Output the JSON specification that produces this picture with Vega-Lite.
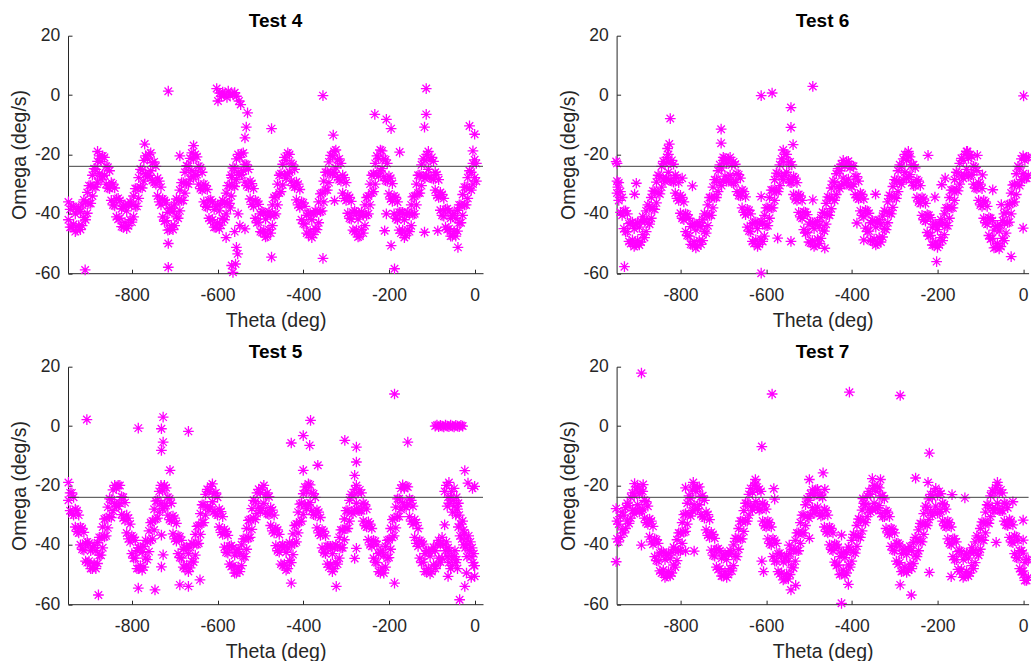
{
"$schema":"https://vega.github.io/schema/vega-lite/v6.json",
"padding":{"left":9,"top":11.7,"right":0,"bottom":0},
"background":"white",
"columns":2,
"spacing":{"column":133.6,"row":93},
"bounds":"flush",
"config":{
"view":{"stroke":null},
"font":"Liberation Sans",
"axis":{"grid":false,"domainColor":"#262626","tickColor":"#262626","labelColor":"#262626","titleColor":"#262626","labelFont":"Liberation Sans","titleFont":"Liberation Sans","labelFontSize":17.5,"titleFontSize":19.5,"titleFontWeight":"normal","tickSize":-4,"domainWidth":1,"tickWidth":1},
"axisX":{"labelPadding":17.4,"titlePadding":7},
"axisY":{"labelPadding":12.3,"titlePadding":5},
"title":{"font":"Liberation Sans","fontSize":19,"fontWeight":"bold","color":"#000000","frame":"group","offset":-4.4,"baseline":"alphabetic","anchor":"middle"}
},
"datasets":{
"t4":[
{"t":-948,"w":-36},{"t":-948,"w":-42},{"t":-944,"w":-38.5},{"t":-944,"w":-44.5},{"t":-940,"w":-37.5},{"t":-940,"w":-44.5},{"t":-936,"w":-37.5},{"t":-936,"w":-43.5},{"t":-932,"w":-40},{"t":-932,"w":-46},{"t":-928,"w":-38.5},{"t":-928,"w":-45.5},{"t":-924,"w":-38},{"t":-924,"w":-44},{"t":-920,"w":-39.3},{"t":-920,"w":-45.3},{"t":-916,"w":-37},{"t":-916,"w":-44},{"t":-912,"w":-35.3},{"t":-912,"w":-41.3},{"t":-908,"w":-36},{"t":-908,"w":-42},{"t":-904,"w":-32.8},{"t":-904,"w":-39.8},{"t":-900,"w":-30.5},{"t":-900,"w":-36.5},{"t":-896,"w":-30.5},{"t":-896,"w":-36.5},{"t":-892,"w":-27},{"t":-892,"w":-34},{"t":-888,"w":-24.8},{"t":-888,"w":-30.8},{"t":-884,"w":-25},{"t":-884,"w":-31},{"t":-880,"w":-22.3},{"t":-880,"w":-29.3},{"t":-876,"w":-20.5},{"t":-876,"w":-26.5},{"t":-872,"w":-22.3},{"t":-872,"w":-28.3},{"t":-868,"w":-20.5},{"t":-868,"w":-27.5},{"t":-864,"w":-21},{"t":-864,"w":-27},{"t":-860,"w":-24},{"t":-860,"w":-30},{"t":-856,"w":-24.3},{"t":-856,"w":-31.3},{"t":-852,"w":-25.5},{"t":-852,"w":-31.5},{"t":-848,"w":-29.5},{"t":-848,"w":-35.5},{"t":-844,"w":-30},{"t":-844,"w":-37},{"t":-840,"w":-31.3},{"t":-840,"w":-37.3},{"t":-836,"w":-35},{"t":-836,"w":-41},{"t":-832,"w":-34.8},{"t":-832,"w":-41.8},{"t":-828,"w":-35.5},{"t":-828,"w":-41.5},{"t":-824,"w":-38.3},{"t":-824,"w":-44.3},{"t":-820,"w":-37.5},{"t":-820,"w":-44.5},{"t":-816,"w":-37},{"t":-816,"w":-43},{"t":-812,"w":-39},{"t":-812,"w":-45},{"t":-808,"w":-37},{"t":-808,"w":-44},{"t":-804,"w":-36},{"t":-804,"w":-42},{"t":-800,"w":-36.8},{"t":-800,"w":-42.8},{"t":-796,"w":-34},{"t":-796,"w":-41},{"t":-792,"w":-31.5},{"t":-792,"w":-37.5},{"t":-788,"w":-31.5},{"t":-788,"w":-37.5},{"t":-784,"w":-27.8},{"t":-784,"w":-34.8},{"t":-780,"w":-25},{"t":-780,"w":-31},{"t":-776,"w":-25.3},{"t":-776,"w":-31.3},{"t":-772,"w":-22},{"t":-772,"w":-29},{"t":-768,"w":-20.5},{"t":-768,"w":-26.5},{"t":-764,"w":-21.5},{"t":-764,"w":-27.5},{"t":-760,"w":-20},{"t":-760,"w":-27},{"t":-756,"w":-19.5},{"t":-756,"w":-25.5},{"t":-752,"w":-22.8},{"t":-752,"w":-28.8},{"t":-748,"w":-22.5},{"t":-748,"w":-29.5},{"t":-744,"w":-24},{"t":-744,"w":-30},{"t":-740,"w":-28},{"t":-740,"w":-34},{"t":-736,"w":-29},{"t":-736,"w":-36},{"t":-732,"w":-31},{"t":-732,"w":-37},{"t":-728,"w":-35},{"t":-728,"w":-41},{"t":-724,"w":-35.5},{"t":-724,"w":-42.5},{"t":-720,"w":-36.3},{"t":-720,"w":-42.3},{"t":-716,"w":-39.5},{"t":-716,"w":-45.5},{"t":-712,"w":-38.3},{"t":-712,"w":-45.3},{"t":-708,"w":-38},{"t":-708,"w":-44},{"t":-704,"w":-39.3},{"t":-704,"w":-45.3},{"t":-700,"w":-37},{"t":-700,"w":-44},{"t":-696,"w":-35},{"t":-696,"w":-41},{"t":-692,"w":-35.5},{"t":-692,"w":-41.5},{"t":-688,"w":-32},{"t":-688,"w":-39},{"t":-684,"w":-29.5},{"t":-684,"w":-35.5},{"t":-680,"w":-29.5},{"t":-680,"w":-35.5},{"t":-676,"w":-26},{"t":-676,"w":-33},{"t":-672,"w":-23.8},{"t":-672,"w":-29.8},{"t":-668,"w":-24},{"t":-668,"w":-30},{"t":-664,"w":-21.3},{"t":-664,"w":-28.3},{"t":-660,"w":-19.5},{"t":-660,"w":-25.5},{"t":-656,"w":-21.5},{"t":-656,"w":-27.5},{"t":-652,"w":-20},{"t":-652,"w":-27},{"t":-648,"w":-20.8},{"t":-648,"w":-26.8},{"t":-644,"w":-24},{"t":-644,"w":-30},{"t":-640,"w":-24.5},{"t":-640,"w":-31.5},{"t":-636,"w":-26},{"t":-636,"w":-32},{"t":-632,"w":-30},{"t":-632,"w":-36},{"t":-628,"w":-30.5},{"t":-628,"w":-37.5},{"t":-624,"w":-31.8},{"t":-624,"w":-37.8},{"t":-620,"w":-35.5},{"t":-620,"w":-41.5},{"t":-616,"w":-35.3},{"t":-616,"w":-42.3},{"t":-612,"w":-36},{"t":-612,"w":-42},{"t":-608,"w":-38.5},{"t":-608,"w":-44.5},{"t":-604,"w":-37.5},{"t":-604,"w":-44.5},{"t":-600,"w":-37},{"t":-600,"w":-43},{"t":-596,"w":-39},{"t":-596,"w":-45},{"t":-592,"w":-36.8},{"t":-592,"w":-43.8},{"t":-588,"w":-35.5},{"t":-588,"w":-41.5},{"t":-584,"w":-36},{"t":-584,"w":-42},{"t":-580,"w":-33},{"t":-580,"w":-40},{"t":-576,"w":-30.5},{"t":-576,"w":-36.5},{"t":-572,"w":-30.5},{"t":-572,"w":-36.5},{"t":-568,"w":-27},{"t":-568,"w":-34},{"t":-564,"w":-24.5},{"t":-564,"w":-30.5},{"t":-560,"w":-24.8},{"t":-560,"w":-30.8},{"t":-556,"w":-21.5},{"t":-556,"w":-28.5},{"t":-552,"w":-20},{"t":-552,"w":-26},{"t":-548,"w":-21},{"t":-548,"w":-27},{"t":-544,"w":-19.8},{"t":-544,"w":-26.8},{"t":-540,"w":-19.5},{"t":-540,"w":-25.5},{"t":-536,"w":-23.3},{"t":-536,"w":-29.3},{"t":-532,"w":-23.5},{"t":-532,"w":-30.5},{"t":-528,"w":-25},{"t":-528,"w":-31},{"t":-524,"w":-29},{"t":-524,"w":-35},{"t":-520,"w":-29.8},{"t":-520,"w":-36.8},{"t":-516,"w":-31.5},{"t":-516,"w":-37.5},{"t":-512,"w":-35.5},{"t":-512,"w":-41.5},{"t":-508,"w":-36},{"t":-508,"w":-43},{"t":-504,"w":-36.8},{"t":-504,"w":-42.8},{"t":-500,"w":-40},{"t":-500,"w":-46},{"t":-496,"w":-39.3},{"t":-496,"w":-46.3},{"t":-492,"w":-39.5},{"t":-492,"w":-45.5},{"t":-488,"w":-41.8},{"t":-488,"w":-47.8},{"t":-484,"w":-40.5},{"t":-484,"w":-47.5},{"t":-480,"w":-39.3},{"t":-480,"w":-45.3},{"t":-476,"w":-40.5},{"t":-476,"w":-46.5},{"t":-472,"w":-37},{"t":-472,"w":-44},{"t":-468,"w":-34.5},{"t":-468,"w":-40.5},{"t":-464,"w":-34},{"t":-464,"w":-40},{"t":-460,"w":-30},{"t":-460,"w":-37},{"t":-456,"w":-27},{"t":-456,"w":-33},{"t":-452,"w":-26.5},{"t":-452,"w":-32.5},{"t":-448,"w":-23.3},{"t":-448,"w":-30.3},{"t":-444,"w":-21},{"t":-444,"w":-27},{"t":-440,"w":-22},{"t":-440,"w":-28},{"t":-436,"w":-19.5},{"t":-436,"w":-26.5},{"t":-432,"w":-20},{"t":-432,"w":-26},{"t":-428,"w":-23},{"t":-428,"w":-29},{"t":-424,"w":-23.5},{"t":-424,"w":-30.5},{"t":-420,"w":-25},{"t":-420,"w":-31},{"t":-416,"w":-29.3},{"t":-416,"w":-35.3},{"t":-412,"w":-30},{"t":-412,"w":-37},{"t":-408,"w":-31.8},{"t":-408,"w":-37.8},{"t":-404,"w":-36},{"t":-404,"w":-42},{"t":-400,"w":-36.3},{"t":-400,"w":-43.3},{"t":-396,"w":-37.5},{"t":-396,"w":-43.5},{"t":-392,"w":-40.5},{"t":-392,"w":-46.5},{"t":-388,"w":-40},{"t":-388,"w":-47},{"t":-384,"w":-39.8},{"t":-384,"w":-45.8},{"t":-380,"w":-42},{"t":-380,"w":-48},{"t":-376,"w":-40},{"t":-376,"w":-47},{"t":-372,"w":-39},{"t":-372,"w":-45},{"t":-368,"w":-39.3},{"t":-368,"w":-45.3},{"t":-364,"w":-36},{"t":-364,"w":-43},{"t":-360,"w":-33.3},{"t":-360,"w":-39.3},{"t":-356,"w":-33},{"t":-356,"w":-39},{"t":-352,"w":-29},{"t":-352,"w":-36},{"t":-348,"w":-26},{"t":-348,"w":-32},{"t":-344,"w":-26},{"t":-344,"w":-32},{"t":-340,"w":-22.5},{"t":-340,"w":-29.5},{"t":-336,"w":-20.3},{"t":-336,"w":-26.3},{"t":-332,"w":-20.5},{"t":-332,"w":-26.5},{"t":-328,"w":-19},{"t":-328,"w":-26},{"t":-324,"w":-18.5},{"t":-324,"w":-24.5},{"t":-320,"w":-21.8},{"t":-320,"w":-27.8},{"t":-316,"w":-21.5},{"t":-316,"w":-28.5},{"t":-312,"w":-23},{"t":-312,"w":-29},{"t":-308,"w":-27},{"t":-308,"w":-33},{"t":-304,"w":-27.8},{"t":-304,"w":-34.8},{"t":-300,"w":-29.5},{"t":-300,"w":-35.5},{"t":-296,"w":-33.8},{"t":-296,"w":-39.8},{"t":-292,"w":-34.5},{"t":-292,"w":-41.5},{"t":-288,"w":-35.8},{"t":-288,"w":-41.8},{"t":-284,"w":-39.5},{"t":-284,"w":-45.5},{"t":-280,"w":-39},{"t":-280,"w":-46},{"t":-276,"w":-39.5},{"t":-276,"w":-45.5},{"t":-272,"w":-41.8},{"t":-272,"w":-47.8},{"t":-268,"w":-40.5},{"t":-268,"w":-47.5},{"t":-264,"w":-39.3},{"t":-264,"w":-45.3},{"t":-260,"w":-40.5},{"t":-260,"w":-46.5},{"t":-256,"w":-37},{"t":-256,"w":-44},{"t":-252,"w":-34.5},{"t":-252,"w":-40.5},{"t":-248,"w":-34},{"t":-248,"w":-40},{"t":-244,"w":-30},{"t":-244,"w":-37},{"t":-240,"w":-27},{"t":-240,"w":-33},{"t":-236,"w":-26.5},{"t":-236,"w":-32.5},{"t":-232,"w":-23},{"t":-232,"w":-30},{"t":-228,"w":-20.5},{"t":-228,"w":-26.5},{"t":-224,"w":-21.3},{"t":-224,"w":-27.3},{"t":-220,"w":-18.5},{"t":-220,"w":-25.5},{"t":-216,"w":-18.8},{"t":-216,"w":-24.8},{"t":-212,"w":-21.5},{"t":-212,"w":-27.5},{"t":-208,"w":-21.8},{"t":-208,"w":-28.8},{"t":-204,"w":-23},{"t":-204,"w":-29},{"t":-200,"w":-27.3},{"t":-200,"w":-33.3},{"t":-196,"w":-28},{"t":-196,"w":-35},{"t":-192,"w":-29.8},{"t":-192,"w":-35.8},{"t":-188,"w":-34},{"t":-188,"w":-40},{"t":-184,"w":-34.5},{"t":-184,"w":-41.5},{"t":-180,"w":-36},{"t":-180,"w":-42},{"t":-176,"w":-39.5},{"t":-176,"w":-45.5},{"t":-172,"w":-39.5},{"t":-172,"w":-46.5},{"t":-168,"w":-39.5},{"t":-168,"w":-45.5},{"t":-164,"w":-42},{"t":-164,"w":-48},{"t":-160,"w":-40.3},{"t":-160,"w":-47.3},{"t":-156,"w":-39.5},{"t":-156,"w":-45.5},{"t":-152,"w":-40},{"t":-152,"w":-46},{"t":-148,"w":-37},{"t":-148,"w":-44},{"t":-144,"w":-34.3},{"t":-144,"w":-40.3},{"t":-140,"w":-34},{"t":-140,"w":-40},{"t":-136,"w":-30},{"t":-136,"w":-37},{"t":-132,"w":-27},{"t":-132,"w":-33},{"t":-128,"w":-27},{"t":-128,"w":-33},{"t":-124,"w":-23.5},{"t":-124,"w":-30.5},{"t":-120,"w":-21.5},{"t":-120,"w":-27.5},{"t":-116,"w":-22},{"t":-116,"w":-28},{"t":-112,"w":-20},{"t":-112,"w":-27},{"t":-108,"w":-19},{"t":-108,"w":-25},{"t":-104,"w":-21.8},{"t":-104,"w":-27.8},{"t":-100,"w":-21},{"t":-100,"w":-28},{"t":-96,"w":-22.3},{"t":-96,"w":-28.3},{"t":-92,"w":-26},{"t":-92,"w":-32},{"t":-88,"w":-26.8},{"t":-88,"w":-33.8},{"t":-84,"w":-28.5},{"t":-84,"w":-34.5},{"t":-80,"w":-32.8},{"t":-80,"w":-38.8},{"t":-76,"w":-33.5},{"t":-76,"w":-40.5},{"t":-72,"w":-34.8},{"t":-72,"w":-40.8},{"t":-68,"w":-38.5},{"t":-68,"w":-44.5},{"t":-64,"w":-38.3},{"t":-64,"w":-45.3},{"t":-60,"w":-39},{"t":-60,"w":-45},{"t":-56,"w":-41.5},{"t":-56,"w":-47.5},{"t":-52,"w":-40.5},{"t":-52,"w":-47.5},{"t":-48,"w":-39.8},{"t":-48,"w":-45.8},{"t":-44,"w":-41.5},{"t":-44,"w":-47.5},{"t":-40,"w":-38.8},{"t":-40,"w":-45.8},{"t":-36,"w":-37},{"t":-36,"w":-43},{"t":-32,"w":-37},{"t":-32,"w":-43},{"t":-28,"w":-33.5},{"t":-28,"w":-40.5},{"t":-24,"w":-31},{"t":-24,"w":-37},{"t":-20,"w":-31},{"t":-20,"w":-37},{"t":-16,"w":-27.8},{"t":-16,"w":-34.8},{"t":-12,"w":-25.5},{"t":-12,"w":-31.5},{"t":-8,"w":-26},{"t":-8,"w":-32},{"t":-4,"w":-23},{"t":-4,"w":-30},{"t":0,"w":-21.8},{"t":0,"w":-27.8},{"t":4,"w":-23},{"t":4,"w":-29},
{"t":-715,"w":1.3},{"t":-715,"w":-58},{"t":-715,"w":-50},{"t":-909,"w":-58.9},{"t":-688,"w":-20.5},{"t":-602,"w":2.2},{"t":-595,"w":0.7},{"t":-583,"w":0.2},{"t":-571,"w":0},{"t":-564,"w":0.4},{"t":-556,"w":-0.4},{"t":-550,"w":-2},{"t":-546,"w":-3.2},{"t":-530,"w":-6},{"t":-533,"w":-10.8},{"t":-536,"w":-14.4},{"t":-591,"w":-0.4},{"t":-575,"w":1.3},{"t":-599,"w":-2},{"t":-588,"w":1},{"t":-578,"w":-0.8},{"t":-560,"w":0.8},{"t":-556,"w":-51.3},{"t":-553,"w":-53.5},{"t":-558,"w":-56.9},{"t":-564,"w":-59.7},{"t":-567,"w":-57.4},{"t":-567,"w":-27.8},{"t":-552,"w":-40},{"t":-536,"w":-45.1},{"t":-560,"w":-46},{"t":-548,"w":-44},{"t":-570,"w":-38},{"t":-580,"w":-48},{"t":-474,"w":-11.3},{"t":-474,"w":-54.6},{"t":-354,"w":-0.2},{"t":-354,"w":-55},{"t":-233,"w":-6.5},{"t":-206,"w":-8.2},{"t":-195,"w":-11.3},{"t":-175,"w":-19.2},{"t":-195,"w":-50.7},{"t":-187,"w":-58.5},{"t":-113,"w":2.2},{"t":-113,"w":-6.5},{"t":-117,"w":-10.8},{"t":-117,"w":-46.2},{"t":-86,"w":-45.7},{"t":-12,"w":-10.4},{"t":0,"w":-13.2},{"t":-4,"w":-18.8},{"t":-39,"w":-51.3},{"t":-206,"w":-40},{"t":-210,"w":-45.7},{"t":-327,"w":-35.6},{"t":-880,"w":-19},{"t":-770,"w":-16.5},{"t":-656,"w":-17},{"t":-330,"w":-13.5}
],
"t6":[
{"t":-948,"w":-23},{"t":-948,"w":-29},{"t":-944,"w":-29.5},{"t":-944,"w":-35.5},{"t":-940,"w":-32.5},{"t":-940,"w":-39.5},{"t":-936,"w":-34.5},{"t":-936,"w":-40.5},{"t":-932,"w":-39},{"t":-932,"w":-45},{"t":-928,"w":-39},{"t":-928,"w":-46},{"t":-924,"w":-40},{"t":-924,"w":-46},{"t":-920,"w":-43.3},{"t":-920,"w":-49.3},{"t":-916,"w":-43},{"t":-916,"w":-50},{"t":-912,"w":-42.8},{"t":-912,"w":-48.8},{"t":-908,"w":-45},{"t":-908,"w":-51},{"t":-904,"w":-43.5},{"t":-904,"w":-50.5},{"t":-900,"w":-43},{"t":-900,"w":-49},{"t":-896,"w":-44.5},{"t":-896,"w":-50.5},{"t":-892,"w":-42.5},{"t":-892,"w":-49.5},{"t":-888,"w":-41},{"t":-888,"w":-47},{"t":-884,"w":-42},{"t":-884,"w":-48},{"t":-880,"w":-39},{"t":-880,"w":-46},{"t":-876,"w":-37},{"t":-876,"w":-43},{"t":-872,"w":-37.5},{"t":-872,"w":-43.5},{"t":-868,"w":-34.5},{"t":-868,"w":-41.5},{"t":-864,"w":-32.3},{"t":-864,"w":-38.3},{"t":-860,"w":-32.5},{"t":-860,"w":-38.5},{"t":-856,"w":-29.3},{"t":-856,"w":-36.3},{"t":-852,"w":-27},{"t":-852,"w":-33},{"t":-848,"w":-27.3},{"t":-848,"w":-33.3},{"t":-844,"w":-24},{"t":-844,"w":-31},{"t":-840,"w":-22.3},{"t":-840,"w":-28.3},{"t":-836,"w":-23},{"t":-836,"w":-29},{"t":-832,"w":-21},{"t":-832,"w":-28},{"t":-828,"w":-20},{"t":-828,"w":-26},{"t":-824,"w":-22.8},{"t":-824,"w":-28.8},{"t":-820,"w":-22},{"t":-820,"w":-29},{"t":-816,"w":-23.3},{"t":-816,"w":-29.3},{"t":-812,"w":-27},{"t":-812,"w":-33},{"t":-808,"w":-27.8},{"t":-808,"w":-34.8},{"t":-804,"w":-29.5},{"t":-804,"w":-35.5},{"t":-800,"w":-33.8},{"t":-800,"w":-39.8},{"t":-796,"w":-34.5},{"t":-796,"w":-41.5},{"t":-792,"w":-36},{"t":-792,"w":-42},{"t":-788,"w":-40},{"t":-788,"w":-46},{"t":-784,"w":-40.3},{"t":-784,"w":-47.3},{"t":-780,"w":-41.5},{"t":-780,"w":-47.5},{"t":-776,"w":-44.3},{"t":-776,"w":-50.3},{"t":-772,"w":-43.5},{"t":-772,"w":-50.5},{"t":-768,"w":-43.3},{"t":-768,"w":-49.3},{"t":-764,"w":-45.5},{"t":-764,"w":-51.5},{"t":-760,"w":-43.8},{"t":-760,"w":-50.8},{"t":-756,"w":-43},{"t":-756,"w":-49},{"t":-752,"w":-44.3},{"t":-752,"w":-50.3},{"t":-748,"w":-42},{"t":-748,"w":-49},{"t":-744,"w":-40},{"t":-744,"w":-46},{"t":-740,"w":-40.5},{"t":-740,"w":-46.5},{"t":-736,"w":-37},{"t":-736,"w":-44},{"t":-732,"w":-34.5},{"t":-732,"w":-40.5},{"t":-728,"w":-34.5},{"t":-728,"w":-40.5},{"t":-724,"w":-31},{"t":-724,"w":-38},{"t":-720,"w":-28.5},{"t":-720,"w":-34.5},{"t":-716,"w":-28.5},{"t":-716,"w":-34.5},{"t":-712,"w":-25.5},{"t":-712,"w":-32.5},{"t":-708,"w":-23.5},{"t":-708,"w":-29.5},{"t":-704,"w":-24.5},{"t":-704,"w":-30.5},{"t":-700,"w":-22},{"t":-700,"w":-29},{"t":-696,"w":-21.3},{"t":-696,"w":-27.3},{"t":-692,"w":-23},{"t":-692,"w":-29},{"t":-688,"w":-21.5},{"t":-688,"w":-28.5},{"t":-684,"w":-21},{"t":-684,"w":-27},{"t":-680,"w":-23.5},{"t":-680,"w":-29.5},{"t":-676,"w":-22.5},{"t":-676,"w":-29.5},{"t":-672,"w":-23.3},{"t":-672,"w":-29.3},{"t":-668,"w":-26.5},{"t":-668,"w":-32.5},{"t":-664,"w":-26.8},{"t":-664,"w":-33.8},{"t":-660,"w":-28},{"t":-660,"w":-34},{"t":-656,"w":-32},{"t":-656,"w":-38},{"t":-652,"w":-32.5},{"t":-652,"w":-39.5},{"t":-648,"w":-34.3},{"t":-648,"w":-40.3},{"t":-644,"w":-38.5},{"t":-644,"w":-44.5},{"t":-640,"w":-38.8},{"t":-640,"w":-45.8},{"t":-636,"w":-40},{"t":-636,"w":-46},{"t":-632,"w":-43.3},{"t":-632,"w":-49.3},{"t":-628,"w":-43},{"t":-628,"w":-50},{"t":-624,"w":-42.8},{"t":-624,"w":-48.8},{"t":-620,"w":-45},{"t":-620,"w":-51},{"t":-616,"w":-43.3},{"t":-616,"w":-50.3},{"t":-612,"w":-42.5},{"t":-612,"w":-48.5},{"t":-608,"w":-43.3},{"t":-608,"w":-49.3},{"t":-604,"w":-40.5},{"t":-604,"w":-47.5},{"t":-600,"w":-38},{"t":-600,"w":-44},{"t":-596,"w":-38},{"t":-596,"w":-44},{"t":-592,"w":-34.5},{"t":-592,"w":-41.5},{"t":-588,"w":-32},{"t":-588,"w":-38},{"t":-584,"w":-32},{"t":-584,"w":-38},{"t":-580,"w":-28.5},{"t":-580,"w":-35.5},{"t":-576,"w":-26.3},{"t":-576,"w":-32.3},{"t":-572,"w":-26.5},{"t":-572,"w":-32.5},{"t":-568,"w":-23.5},{"t":-568,"w":-30.5},{"t":-564,"w":-21.5},{"t":-564,"w":-27.5},{"t":-560,"w":-22.5},{"t":-560,"w":-28.5},{"t":-556,"w":-20},{"t":-556,"w":-27},{"t":-552,"w":-20},{"t":-552,"w":-26},{"t":-548,"w":-22.5},{"t":-548,"w":-28.5},{"t":-544,"w":-22.5},{"t":-544,"w":-29.5},{"t":-540,"w":-23.5},{"t":-540,"w":-29.5},{"t":-536,"w":-27.5},{"t":-536,"w":-33.5},{"t":-532,"w":-28},{"t":-532,"w":-35},{"t":-528,"w":-29.5},{"t":-528,"w":-35.5},{"t":-524,"w":-33.5},{"t":-524,"w":-39.5},{"t":-520,"w":-34},{"t":-520,"w":-41},{"t":-516,"w":-35.5},{"t":-516,"w":-41.5},{"t":-512,"w":-39.3},{"t":-512,"w":-45.3},{"t":-508,"w":-39.5},{"t":-508,"w":-46.5},{"t":-504,"w":-40.3},{"t":-504,"w":-46.3},{"t":-500,"w":-43.5},{"t":-500,"w":-49.5},{"t":-496,"w":-42.8},{"t":-496,"w":-49.8},{"t":-492,"w":-43},{"t":-492,"w":-49},{"t":-488,"w":-45},{"t":-488,"w":-51},{"t":-484,"w":-43.5},{"t":-484,"w":-50.5},{"t":-480,"w":-42.5},{"t":-480,"w":-48.5},{"t":-476,"w":-44},{"t":-476,"w":-50},{"t":-472,"w":-41.3},{"t":-472,"w":-48.3},{"t":-468,"w":-39.5},{"t":-468,"w":-45.5},{"t":-464,"w":-39.8},{"t":-464,"w":-45.8},{"t":-460,"w":-36.5},{"t":-460,"w":-43.5},{"t":-456,"w":-34.3},{"t":-456,"w":-40.3},{"t":-452,"w":-34.5},{"t":-452,"w":-40.5},{"t":-448,"w":-31.3},{"t":-448,"w":-38.3},{"t":-444,"w":-29},{"t":-444,"w":-35},{"t":-440,"w":-29.5},{"t":-440,"w":-35.5},{"t":-436,"w":-26.5},{"t":-436,"w":-33.5},{"t":-432,"w":-24.8},{"t":-432,"w":-30.8},{"t":-428,"w":-25.5},{"t":-428,"w":-31.5},{"t":-424,"w":-23.3},{"t":-424,"w":-30.3},{"t":-420,"w":-22},{"t":-420,"w":-28},{"t":-416,"w":-24},{"t":-416,"w":-30},{"t":-412,"w":-22.5},{"t":-412,"w":-29.5},{"t":-408,"w":-22.3},{"t":-408,"w":-28.3},{"t":-404,"w":-24.5},{"t":-404,"w":-30.5},{"t":-400,"w":-23.8},{"t":-400,"w":-30.8},{"t":-396,"w":-24},{"t":-396,"w":-30},{"t":-392,"w":-27.5},{"t":-392,"w":-33.5},{"t":-388,"w":-27.5},{"t":-388,"w":-34.5},{"t":-384,"w":-29},{"t":-384,"w":-35},{"t":-380,"w":-33},{"t":-380,"w":-39},{"t":-376,"w":-33.5},{"t":-376,"w":-40.5},{"t":-372,"w":-35},{"t":-372,"w":-41},{"t":-368,"w":-38.8},{"t":-368,"w":-44.8},{"t":-364,"w":-39},{"t":-364,"w":-46},{"t":-360,"w":-39.8},{"t":-360,"w":-45.8},{"t":-356,"w":-43},{"t":-356,"w":-49},{"t":-352,"w":-42.3},{"t":-352,"w":-49.3},{"t":-348,"w":-42.5},{"t":-348,"w":-48.5},{"t":-344,"w":-44.5},{"t":-344,"w":-50.5},{"t":-340,"w":-43},{"t":-340,"w":-50},{"t":-336,"w":-42},{"t":-336,"w":-48},{"t":-332,"w":-43.5},{"t":-332,"w":-49.5},{"t":-328,"w":-40.8},{"t":-328,"w":-47.8},{"t":-324,"w":-39},{"t":-324,"w":-45},{"t":-320,"w":-39.3},{"t":-320,"w":-45.3},{"t":-316,"w":-36},{"t":-316,"w":-43},{"t":-312,"w":-33.8},{"t":-312,"w":-39.8},{"t":-308,"w":-34},{"t":-308,"w":-40},{"t":-304,"w":-30.8},{"t":-304,"w":-37.8},{"t":-300,"w":-28.5},{"t":-300,"w":-34.5},{"t":-296,"w":-28.8},{"t":-296,"w":-34.8},{"t":-292,"w":-25.5},{"t":-292,"w":-32.5},{"t":-288,"w":-23.5},{"t":-288,"w":-29.5},{"t":-284,"w":-24},{"t":-284,"w":-30},{"t":-280,"w":-21.5},{"t":-280,"w":-28.5},{"t":-276,"w":-20},{"t":-276,"w":-26},{"t":-272,"w":-22},{"t":-272,"w":-28},{"t":-268,"w":-20.5},{"t":-268,"w":-27.5},{"t":-264,"w":-20.8},{"t":-264,"w":-26.8},{"t":-260,"w":-23.5},{"t":-260,"w":-29.5},{"t":-256,"w":-23.5},{"t":-256,"w":-30.5},{"t":-252,"w":-24.5},{"t":-252,"w":-30.5},{"t":-248,"w":-28.5},{"t":-248,"w":-34.5},{"t":-244,"w":-29},{"t":-244,"w":-36},{"t":-240,"w":-30.5},{"t":-240,"w":-36.5},{"t":-236,"w":-34.5},{"t":-236,"w":-40.5},{"t":-232,"w":-35},{"t":-232,"w":-42},{"t":-228,"w":-36.5},{"t":-228,"w":-42.5},{"t":-224,"w":-40.3},{"t":-224,"w":-46.3},{"t":-220,"w":-40.5},{"t":-220,"w":-47.5},{"t":-216,"w":-41.3},{"t":-216,"w":-47.3},{"t":-212,"w":-44.5},{"t":-212,"w":-50.5},{"t":-208,"w":-43.5},{"t":-208,"w":-50.5},{"t":-204,"w":-43.5},{"t":-204,"w":-49.5},{"t":-200,"w":-45.3},{"t":-200,"w":-51.3},{"t":-196,"w":-43.5},{"t":-196,"w":-50.5},{"t":-192,"w":-42},{"t":-192,"w":-48},{"t":-188,"w":-43},{"t":-188,"w":-49},{"t":-184,"w":-40},{"t":-184,"w":-47},{"t":-180,"w":-38},{"t":-180,"w":-44},{"t":-176,"w":-38},{"t":-176,"w":-44},{"t":-172,"w":-34.5},{"t":-172,"w":-41.5},{"t":-168,"w":-32},{"t":-168,"w":-38},{"t":-164,"w":-32},{"t":-164,"w":-38},{"t":-160,"w":-28.5},{"t":-160,"w":-35.5},{"t":-156,"w":-26},{"t":-156,"w":-32},{"t":-152,"w":-26.3},{"t":-152,"w":-32.3},{"t":-148,"w":-23},{"t":-148,"w":-30},{"t":-144,"w":-21.3},{"t":-144,"w":-27.3},{"t":-140,"w":-22},{"t":-140,"w":-28},{"t":-136,"w":-20},{"t":-136,"w":-27},{"t":-132,"w":-19},{"t":-132,"w":-25},{"t":-128,"w":-21.3},{"t":-128,"w":-27.3},{"t":-124,"w":-20},{"t":-124,"w":-27},{"t":-120,"w":-20.8},{"t":-120,"w":-26.8},{"t":-116,"w":-24},{"t":-116,"w":-30},{"t":-112,"w":-24.3},{"t":-112,"w":-31.3},{"t":-108,"w":-25.5},{"t":-108,"w":-31.5},{"t":-104,"w":-29.5},{"t":-104,"w":-35.5},{"t":-100,"w":-30},{"t":-100,"w":-37},{"t":-96,"w":-31.5},{"t":-96,"w":-37.5},{"t":-92,"w":-35.5},{"t":-92,"w":-41.5},{"t":-88,"w":-36},{"t":-88,"w":-43},{"t":-84,"w":-37.5},{"t":-84,"w":-43.5},{"t":-80,"w":-41.3},{"t":-80,"w":-47.3},{"t":-76,"w":-41.5},{"t":-76,"w":-48.5},{"t":-72,"w":-42.3},{"t":-72,"w":-48.3},{"t":-68,"w":-45.5},{"t":-68,"w":-51.5},{"t":-64,"w":-44.3},{"t":-64,"w":-51.3},{"t":-60,"w":-44},{"t":-60,"w":-50},{"t":-56,"w":-45.8},{"t":-56,"w":-51.8},{"t":-52,"w":-44},{"t":-52,"w":-51},{"t":-48,"w":-42.3},{"t":-48,"w":-48.3},{"t":-44,"w":-43},{"t":-44,"w":-49},{"t":-40,"w":-39.5},{"t":-40,"w":-46.5},{"t":-36,"w":-37},{"t":-36,"w":-43},{"t":-32,"w":-36.8},{"t":-32,"w":-42.8},{"t":-28,"w":-33},{"t":-28,"w":-40},{"t":-24,"w":-30.3},{"t":-24,"w":-36.3},{"t":-20,"w":-30},{"t":-20,"w":-36},{"t":-16,"w":-26.5},{"t":-16,"w":-33.5},{"t":-12,"w":-24},{"t":-12,"w":-30},{"t":-8,"w":-24.5},{"t":-8,"w":-30.5},{"t":-4,"w":-21.5},{"t":-4,"w":-28.5},{"t":0,"w":-20.5},{"t":0,"w":-26.5},{"t":4,"w":-22},{"t":4,"w":-28},{"t":8,"w":-21},{"t":8,"w":-28},{"t":12,"w":-21},{"t":12,"w":-27},
{"t":-950,"w":-22.4},{"t":-946,"w":-31},{"t":-948,"w":-33},{"t":-930.7,"w":-57.8},{"t":-903,"w":-29.7},{"t":-907,"w":-33.4},{"t":-823.7,"w":-7.9},{"t":-796,"w":-28},{"t":-772,"w":-30.6},{"t":-705,"w":-11.5},{"t":-705,"w":-16.2},{"t":-611.5,"w":-0.2},{"t":-586,"w":0.7},{"t":-611.5,"w":-34.2},{"t":-611.5,"w":-60},{"t":-573,"w":-48.2},{"t":-542,"w":-49.3},{"t":-542,"w":-4.2},{"t":-542,"w":-10.9},{"t":-537,"w":-16.7},{"t":-491,"w":2.9},{"t":-491,"w":-35.3},{"t":-463,"w":-51.6},{"t":-344.5,"w":-33.4},{"t":-372,"w":-48.8},{"t":-388,"w":-43.1},{"t":-222,"w":-20.3},{"t":-206,"w":-34.4},{"t":-190,"w":-30.2},{"t":-182,"w":-28},{"t":-202,"w":-56.1},{"t":-107,"w":-20.3},{"t":-95,"w":-26.9},{"t":-71,"w":-31.9},{"t":-51,"w":-36.9},{"t":-28,"w":-54.4},{"t":0,"w":-44.8},{"t":1,"w":-0.3},{"t":-830,"w":-18},{"t":-826,"w":-16.5},{"t":-700,"w":-21},{"t":-560,"w":-18.5},{"t":-268,"w":-19},{"t":-130,"w":-19},{"t":-45,"w":-40}
],
"t5":[
{"t":-948,"w":-19},{"t":-948,"w":-25},{"t":-944,"w":-22.5},{"t":-944,"w":-28.5},{"t":-940,"w":-22.5},{"t":-940,"w":-29.5},{"t":-936,"w":-24},{"t":-936,"w":-30},{"t":-932,"w":-28},{"t":-932,"w":-34},{"t":-928,"w":-28.5},{"t":-928,"w":-35.5},{"t":-924,"w":-30},{"t":-924,"w":-36},{"t":-920,"w":-34},{"t":-920,"w":-40},{"t":-916,"w":-34.5},{"t":-916,"w":-41.5},{"t":-912,"w":-35.8},{"t":-912,"w":-41.8},{"t":-908,"w":-39.5},{"t":-908,"w":-45.5},{"t":-904,"w":-39},{"t":-904,"w":-46},{"t":-900,"w":-39.5},{"t":-900,"w":-45.5},{"t":-896,"w":-42},{"t":-896,"w":-48},{"t":-892,"w":-41},{"t":-892,"w":-48},{"t":-888,"w":-40.3},{"t":-888,"w":-46.3},{"t":-884,"w":-42},{"t":-884,"w":-48},{"t":-880,"w":-39.3},{"t":-880,"w":-46.3},{"t":-876,"w":-37.5},{"t":-876,"w":-43.5},{"t":-872,"w":-37.5},{"t":-872,"w":-43.5},{"t":-868,"w":-34},{"t":-868,"w":-41},{"t":-864,"w":-31.3},{"t":-864,"w":-37.3},{"t":-860,"w":-31},{"t":-860,"w":-37},{"t":-856,"w":-27.3},{"t":-856,"w":-34.3},{"t":-852,"w":-24.5},{"t":-852,"w":-30.5},{"t":-848,"w":-24.8},{"t":-848,"w":-30.8},{"t":-844,"w":-21.5},{"t":-844,"w":-28.5},{"t":-840,"w":-20},{"t":-840,"w":-26},{"t":-836,"w":-21},{"t":-836,"w":-27},{"t":-832,"w":-20},{"t":-832,"w":-27},{"t":-828,"w":-20},{"t":-828,"w":-26},{"t":-824,"w":-23.8},{"t":-824,"w":-29.8},{"t":-820,"w":-24},{"t":-820,"w":-31},{"t":-816,"w":-25.8},{"t":-816,"w":-31.8},{"t":-812,"w":-30},{"t":-812,"w":-36},{"t":-808,"w":-31},{"t":-808,"w":-38},{"t":-804,"w":-33},{"t":-804,"w":-39},{"t":-800,"w":-37},{"t":-800,"w":-43},{"t":-796,"w":-37.5},{"t":-796,"w":-44.5},{"t":-792,"w":-38.5},{"t":-792,"w":-44.5},{"t":-788,"w":-42},{"t":-788,"w":-48},{"t":-784,"w":-41},{"t":-784,"w":-48},{"t":-780,"w":-41},{"t":-780,"w":-47},{"t":-776,"w":-42.5},{"t":-776,"w":-48.5},{"t":-772,"w":-40.5},{"t":-772,"w":-47.5},{"t":-768,"w":-38.5},{"t":-768,"w":-44.5},{"t":-764,"w":-39},{"t":-764,"w":-45},{"t":-760,"w":-35.3},{"t":-760,"w":-42.3},{"t":-756,"w":-32.5},{"t":-756,"w":-38.5},{"t":-752,"w":-32},{"t":-752,"w":-38},{"t":-748,"w":-28},{"t":-748,"w":-35},{"t":-744,"w":-25.3},{"t":-744,"w":-31.3},{"t":-740,"w":-25},{"t":-740,"w":-31},{"t":-736,"w":-22},{"t":-736,"w":-29},{"t":-732,"w":-20},{"t":-732,"w":-26},{"t":-728,"w":-21.8},{"t":-728,"w":-27.8},{"t":-724,"w":-20},{"t":-724,"w":-27},{"t":-720,"w":-20.8},{"t":-720,"w":-26.8},{"t":-716,"w":-24},{"t":-716,"w":-30},{"t":-712,"w":-24.5},{"t":-712,"w":-31.5},{"t":-708,"w":-26},{"t":-708,"w":-32},{"t":-704,"w":-30.3},{"t":-704,"w":-36.3},{"t":-700,"w":-31},{"t":-700,"w":-38},{"t":-696,"w":-32.8},{"t":-696,"w":-38.8},{"t":-692,"w":-37},{"t":-692,"w":-43},{"t":-688,"w":-37.3},{"t":-688,"w":-44.3},{"t":-684,"w":-38.5},{"t":-684,"w":-44.5},{"t":-680,"w":-41.5},{"t":-680,"w":-47.5},{"t":-676,"w":-41},{"t":-676,"w":-48},{"t":-672,"w":-40.8},{"t":-672,"w":-46.8},{"t":-668,"w":-43},{"t":-668,"w":-49},{"t":-664,"w":-40.8},{"t":-664,"w":-47.8},{"t":-660,"w":-39.5},{"t":-660,"w":-45.5},{"t":-656,"w":-39.8},{"t":-656,"w":-45.8},{"t":-652,"w":-36.5},{"t":-652,"w":-43.5},{"t":-648,"w":-33.8},{"t":-648,"w":-39.8},{"t":-644,"w":-33.5},{"t":-644,"w":-39.5},{"t":-640,"w":-29.5},{"t":-640,"w":-36.5},{"t":-636,"w":-26.5},{"t":-636,"w":-32.5},{"t":-632,"w":-26.5},{"t":-632,"w":-32.5},{"t":-628,"w":-23},{"t":-628,"w":-30},{"t":-624,"w":-21.3},{"t":-624,"w":-27.3},{"t":-620,"w":-22},{"t":-620,"w":-28},{"t":-616,"w":-20.3},{"t":-616,"w":-27.3},{"t":-612,"w":-19.5},{"t":-612,"w":-25.5},{"t":-608,"w":-22.8},{"t":-608,"w":-28.8},{"t":-604,"w":-22.5},{"t":-604,"w":-29.5},{"t":-600,"w":-24},{"t":-600,"w":-30},{"t":-596,"w":-28},{"t":-596,"w":-34},{"t":-592,"w":-28.8},{"t":-592,"w":-35.8},{"t":-588,"w":-30.5},{"t":-588,"w":-36.5},{"t":-584,"w":-34.8},{"t":-584,"w":-40.8},{"t":-580,"w":-35.5},{"t":-580,"w":-42.5},{"t":-576,"w":-36.8},{"t":-576,"w":-42.8},{"t":-572,"w":-40.5},{"t":-572,"w":-46.5},{"t":-568,"w":-40.3},{"t":-568,"w":-47.3},{"t":-564,"w":-41},{"t":-564,"w":-47},{"t":-560,"w":-43.5},{"t":-560,"w":-49.5},{"t":-556,"w":-42.5},{"t":-556,"w":-49.5},{"t":-552,"w":-41.5},{"t":-552,"w":-47.5},{"t":-548,"w":-43},{"t":-548,"w":-49},{"t":-544,"w":-40},{"t":-544,"w":-47},{"t":-540,"w":-38},{"t":-540,"w":-44},{"t":-536,"w":-38},{"t":-536,"w":-44},{"t":-532,"w":-34.5},{"t":-532,"w":-41.5},{"t":-528,"w":-31.8},{"t":-528,"w":-37.8},{"t":-524,"w":-31.5},{"t":-524,"w":-37.5},{"t":-520,"w":-27.8},{"t":-520,"w":-34.8},{"t":-516,"w":-25},{"t":-516,"w":-31},{"t":-512,"w":-25.5},{"t":-512,"w":-31.5},{"t":-508,"w":-22.5},{"t":-508,"w":-29.5},{"t":-504,"w":-21.3},{"t":-504,"w":-27.3},{"t":-500,"w":-22.5},{"t":-500,"w":-28.5},{"t":-496,"w":-20.8},{"t":-496,"w":-27.8},{"t":-492,"w":-20},{"t":-492,"w":-26},{"t":-488,"w":-23},{"t":-488,"w":-29},{"t":-484,"w":-22.5},{"t":-484,"w":-29.5},{"t":-480,"w":-23.8},{"t":-480,"w":-29.8},{"t":-476,"w":-27.5},{"t":-476,"w":-33.5},{"t":-472,"w":-28.3},{"t":-472,"w":-35.3},{"t":-468,"w":-30},{"t":-468,"w":-36},{"t":-464,"w":-34.3},{"t":-464,"w":-40.3},{"t":-460,"w":-35},{"t":-460,"w":-42},{"t":-456,"w":-36.5},{"t":-456,"w":-42.5},{"t":-452,"w":-40.5},{"t":-452,"w":-46.5},{"t":-448,"w":-40},{"t":-448,"w":-47},{"t":-444,"w":-40.5},{"t":-444,"w":-46.5},{"t":-440,"w":-42.5},{"t":-440,"w":-48.5},{"t":-436,"w":-41},{"t":-436,"w":-48},{"t":-432,"w":-39.3},{"t":-432,"w":-45.3},{"t":-428,"w":-40},{"t":-428,"w":-46},{"t":-424,"w":-36.3},{"t":-424,"w":-43.3},{"t":-420,"w":-33.5},{"t":-420,"w":-39.5},{"t":-416,"w":-33},{"t":-416,"w":-39},{"t":-412,"w":-29},{"t":-412,"w":-36},{"t":-408,"w":-26.3},{"t":-408,"w":-32.3},{"t":-404,"w":-26},{"t":-404,"w":-32},{"t":-400,"w":-22.8},{"t":-400,"w":-29.8},{"t":-396,"w":-20.5},{"t":-396,"w":-26.5},{"t":-392,"w":-21.8},{"t":-392,"w":-27.8},{"t":-388,"w":-19.5},{"t":-388,"w":-26.5},{"t":-384,"w":-19.8},{"t":-384,"w":-25.8},{"t":-380,"w":-22.5},{"t":-380,"w":-28.5},{"t":-376,"w":-22.8},{"t":-376,"w":-29.8},{"t":-372,"w":-24},{"t":-372,"w":-30},{"t":-368,"w":-28.3},{"t":-368,"w":-34.3},{"t":-364,"w":-29},{"t":-364,"w":-36},{"t":-360,"w":-30.8},{"t":-360,"w":-36.8},{"t":-356,"w":-35},{"t":-356,"w":-41},{"t":-352,"w":-35.5},{"t":-352,"w":-42.5},{"t":-348,"w":-37},{"t":-348,"w":-43},{"t":-344,"w":-40.5},{"t":-344,"w":-46.5},{"t":-340,"w":-40.5},{"t":-340,"w":-47.5},{"t":-336,"w":-40.5},{"t":-336,"w":-46.5},{"t":-332,"w":-43},{"t":-332,"w":-49},{"t":-328,"w":-41},{"t":-328,"w":-48},{"t":-324,"w":-40},{"t":-324,"w":-46},{"t":-320,"w":-40.5},{"t":-320,"w":-46.5},{"t":-316,"w":-37.5},{"t":-316,"w":-44.5},{"t":-312,"w":-35},{"t":-312,"w":-41},{"t":-308,"w":-35},{"t":-308,"w":-41},{"t":-304,"w":-31.3},{"t":-304,"w":-38.3},{"t":-300,"w":-28.5},{"t":-300,"w":-34.5},{"t":-296,"w":-28.5},{"t":-296,"w":-34.5},{"t":-292,"w":-25},{"t":-292,"w":-32},{"t":-288,"w":-23},{"t":-288,"w":-29},{"t":-284,"w":-23.5},{"t":-284,"w":-29.5},{"t":-280,"w":-21.3},{"t":-280,"w":-28.3},{"t":-276,"w":-20},{"t":-276,"w":-26},{"t":-272,"w":-22.5},{"t":-272,"w":-28.5},{"t":-268,"w":-21.5},{"t":-268,"w":-28.5},{"t":-264,"w":-22.5},{"t":-264,"w":-28.5},{"t":-260,"w":-26},{"t":-260,"w":-32},{"t":-256,"w":-26.5},{"t":-256,"w":-33.5},{"t":-252,"w":-28},{"t":-252,"w":-34},{"t":-248,"w":-32.3},{"t":-248,"w":-38.3},{"t":-244,"w":-33},{"t":-244,"w":-40},{"t":-240,"w":-34.5},{"t":-240,"w":-40.5},{"t":-236,"w":-38.5},{"t":-236,"w":-44.5},{"t":-232,"w":-38.8},{"t":-232,"w":-45.8},{"t":-228,"w":-40},{"t":-228,"w":-46},{"t":-224,"w":-43},{"t":-224,"w":-49},{"t":-220,"w":-42.5},{"t":-220,"w":-49.5},{"t":-216,"w":-41.8},{"t":-216,"w":-47.8},{"t":-212,"w":-43.5},{"t":-212,"w":-49.5},{"t":-208,"w":-40.5},{"t":-208,"w":-47.5},{"t":-204,"w":-38.5},{"t":-204,"w":-44.5},{"t":-200,"w":-38.3},{"t":-200,"w":-44.3},{"t":-196,"w":-34.5},{"t":-196,"w":-41.5},{"t":-192,"w":-31.5},{"t":-192,"w":-37.5},{"t":-188,"w":-31},{"t":-188,"w":-37},{"t":-184,"w":-27.3},{"t":-184,"w":-34.3},{"t":-180,"w":-24.5},{"t":-180,"w":-30.5},{"t":-176,"w":-24.5},{"t":-176,"w":-30.5},{"t":-172,"w":-21},{"t":-172,"w":-28},{"t":-168,"w":-19.8},{"t":-168,"w":-25.8},{"t":-164,"w":-21},{"t":-164,"w":-27},{"t":-160,"w":-20.3},{"t":-160,"w":-27.3},{"t":-156,"w":-20.5},{"t":-156,"w":-26.5},{"t":-152,"w":-24.5},{"t":-152,"w":-30.5},{"t":-148,"w":-25},{"t":-148,"w":-32},{"t":-144,"w":-27},{"t":-144,"w":-33},{"t":-140,"w":-31.5},{"t":-140,"w":-37.5},{"t":-136,"w":-32.5},{"t":-136,"w":-39.5},{"t":-132,"w":-34.5},{"t":-132,"w":-40.5},{"t":-128,"w":-38.5},{"t":-128,"w":-44.5},{"t":-124,"w":-39},{"t":-124,"w":-46},{"t":-120,"w":-39.8},{"t":-120,"w":-45.8},{"t":-116,"w":-43},{"t":-116,"w":-49},{"t":-112,"w":-42},{"t":-112,"w":-49},{"t":-108,"w":-42},{"t":-108,"w":-48},{"t":-104,"w":-43.8},{"t":-104,"w":-49.8},{"t":-100,"w":-42},{"t":-100,"w":-49},{"t":-96,"w":-40.8},{"t":-96,"w":-46.8},{"t":-92,"w":-42},{"t":-92,"w":-48},{"t":-88,"w":-39.8},{"t":-88,"w":-46.8},{"t":-84,"w":-38.5},{"t":-84,"w":-44.5},{"t":-80,"w":-39.8},{"t":-80,"w":-45.8},{"t":-76,"w":-37.5},{"t":-76,"w":-44.5},
{"t":-72,"w":-40},{"t":-68,"w":-42},{"t":-64,"w":-44},{"t":-60,"w":-46},{"t":-56,"w":-48},{"t":-52,"w":-47},{"t":-48,"w":-44},{"t":-44,"w":-46},{"t":-40,"w":-48},{"t":-66,"w":-39},{"t":-58,"w":-42},{"t":-62,"w":-41},{"t":-54,"w":-44},{"t":-46,"w":-42},{"t":-42,"w":-45},
{"t":-70,"w":-22},{"t":-66,"w":-20},{"t":-62,"w":-24},{"t":-58,"w":-26},{"t":-54,"w":-22},{"t":-50,"w":-25},{"t":-46,"w":-27},{"t":-42,"w":-24},{"t":-38,"w":-26},{"t":-60,"w":-19},{"t":-52,"w":-29},{"t":-48,"w":-21},{"t":-44,"w":-30},{"t":-40,"w":-28},{"t":-56,"w":-24},{"t":-64,"w":-27},
{"t":-36,"w":-30},{"t":-32,"w":-33},{"t":-28,"w":-32},{"t":-24,"w":-36},{"t":-20,"w":-38},{"t":-16,"w":-40},{"t":-12,"w":-42},{"t":-8,"w":-44},{"t":-4,"w":-46},{"t":0,"w":-47},{"t":-34,"w":-37},{"t":-30,"w":-38},{"t":-26,"w":-40},{"t":-22,"w":-41},{"t":-18,"w":-44},{"t":-14,"w":-37},{"t":-10,"w":-39},{"t":-6,"w":-41},{"t":-2,"w":-43},{"t":-38,"w":-34},{"t":-26,"w":-35},
{"t":-92,"w":0},{"t":-88,"w":0.3},{"t":-84,"w":-0.2},{"t":-80,"w":0.2},{"t":-76,"w":0},{"t":-72,"w":-0.3},{"t":-68,"w":0.3},{"t":-64,"w":0},{"t":-60,"w":-0.2},{"t":-56,"w":0.3},{"t":-52,"w":0},{"t":-48,"w":-0.3},{"t":-44,"w":0.2},{"t":-40,"w":0},{"t":-36,"w":-0.2},{"t":-32,"w":0.2},{"t":-28,"w":0},
{"t":-905,"w":2.2},{"t":-878,"w":-56.9},{"t":-785,"w":-0.7},{"t":-785,"w":-54.6},{"t":-746,"w":-55.2},{"t":-727,"w":3},{"t":-731,"w":-0.9},{"t":-727,"w":-5.4},{"t":-731,"w":-8.2},{"t":-711,"w":-14.9},{"t":-731,"w":-47.4},{"t":-727,"w":-43.4},{"t":-731,"w":-36.7},{"t":-668,"w":-1.8},{"t":-688,"w":-53.5},{"t":-668,"w":-54},{"t":-641,"w":-51.8},{"t":-428,"w":-5.7},{"t":-428,"w":-52.9},{"t":-400,"w":-3.2},{"t":-383,"w":1.9},{"t":-385,"w":-6.5},{"t":-366,"w":-13.2},{"t":-400,"w":-14.9},{"t":-323,"w":-54},{"t":-303,"w":-4.8},{"t":-276,"w":-7.1},{"t":-276,"w":-12.1},{"t":-280,"w":-16.6},{"t":-280,"w":-44.6},{"t":-276,"w":-41.2},{"t":-187,"w":10.8},{"t":-187,"w":-52.9},{"t":-156,"w":-5.4},{"t":-70,"w":-33.3},{"t":-62,"w":-50.6},{"t":-23,"w":-15},{"t":-15.5,"w":-19.2},{"t":0,"w":-20.3},{"t":0,"w":-50.6},{"t":-19,"w":-49.5},{"t":-23,"w":-54},{"t":-35,"w":-58.5},{"t":-5,"w":-21},{"t":-8,"w":-51},{"t":-2,"w":-47}
],
"t7":[
{"t":-948,"w":-32},{"t":-948,"w":-38},{"t":-944,"w":-33},{"t":-944,"w":-39},{"t":-940,"w":-30.5},{"t":-940,"w":-37.5},{"t":-936,"w":-29},{"t":-936,"w":-35},{"t":-932,"w":-30},{"t":-932,"w":-36},{"t":-928,"w":-27.5},{"t":-928,"w":-34.5},{"t":-924,"w":-26},{"t":-924,"w":-32},{"t":-920,"w":-26.8},{"t":-920,"w":-32.8},{"t":-916,"w":-24},{"t":-916,"w":-31},{"t":-912,"w":-22.5},{"t":-912,"w":-28.5},{"t":-908,"w":-23.5},{"t":-908,"w":-29.5},{"t":-904,"w":-21.5},{"t":-904,"w":-28.5},{"t":-900,"w":-20.5},{"t":-900,"w":-26.5},{"t":-896,"w":-22.8},{"t":-896,"w":-28.8},{"t":-892,"w":-21.5},{"t":-892,"w":-28.5},{"t":-888,"w":-22},{"t":-888,"w":-28},{"t":-884,"w":-25},{"t":-884,"w":-31},{"t":-880,"w":-25.5},{"t":-880,"w":-32.5},{"t":-876,"w":-27},{"t":-876,"w":-33},{"t":-872,"w":-31.3},{"t":-872,"w":-37.3},{"t":-868,"w":-32},{"t":-868,"w":-39},{"t":-864,"w":-33.8},{"t":-864,"w":-39.8},{"t":-860,"w":-38},{"t":-860,"w":-44},{"t":-856,"w":-38.3},{"t":-856,"w":-45.3},{"t":-852,"w":-39.5},{"t":-852,"w":-45.5},{"t":-848,"w":-42.8},{"t":-848,"w":-48.8},{"t":-844,"w":-42.5},{"t":-844,"w":-49.5},{"t":-840,"w":-42.5},{"t":-840,"w":-48.5},{"t":-836,"w":-45},{"t":-836,"w":-51},{"t":-832,"w":-43.5},{"t":-832,"w":-50.5},{"t":-828,"w":-43},{"t":-828,"w":-49},{"t":-824,"w":-44.5},{"t":-824,"w":-50.5},{"t":-820,"w":-42.5},{"t":-820,"w":-49.5},{"t":-816,"w":-40.8},{"t":-816,"w":-46.8},{"t":-812,"w":-41.5},{"t":-812,"w":-47.5},{"t":-808,"w":-38.3},{"t":-808,"w":-45.3},{"t":-804,"w":-36},{"t":-804,"w":-42},{"t":-800,"w":-36},{"t":-800,"w":-42},{"t":-796,"w":-32.5},{"t":-796,"w":-39.5},{"t":-792,"w":-29.8},{"t":-792,"w":-35.8},{"t":-788,"w":-29.5},{"t":-788,"w":-35.5},{"t":-784,"w":-26},{"t":-784,"w":-33},{"t":-780,"w":-23.5},{"t":-780,"w":-29.5},{"t":-776,"w":-24.3},{"t":-776,"w":-30.3},{"t":-772,"w":-21.5},{"t":-772,"w":-28.5},{"t":-768,"w":-20.5},{"t":-768,"w":-26.5},{"t":-764,"w":-22},{"t":-764,"w":-28},{"t":-760,"w":-20.8},{"t":-760,"w":-27.8},{"t":-756,"w":-20.5},{"t":-756,"w":-26.5},{"t":-752,"w":-23.8},{"t":-752,"w":-29.8},{"t":-748,"w":-23.5},{"t":-748,"w":-30.5},{"t":-744,"w":-25},{"t":-744,"w":-31},{"t":-740,"w":-29},{"t":-740,"w":-35},{"t":-736,"w":-29.8},{"t":-736,"w":-36.8},{"t":-732,"w":-31.5},{"t":-732,"w":-37.5},{"t":-728,"w":-35.8},{"t":-728,"w":-41.8},{"t":-724,"w":-36.5},{"t":-724,"w":-43.5},{"t":-720,"w":-37.8},{"t":-720,"w":-43.8},{"t":-716,"w":-41.5},{"t":-716,"w":-47.5},{"t":-712,"w":-41.3},{"t":-712,"w":-48.3},{"t":-708,"w":-42},{"t":-708,"w":-48},{"t":-704,"w":-44.5},{"t":-704,"w":-50.5},{"t":-700,"w":-43.5},{"t":-700,"w":-50.5},{"t":-696,"w":-43},{"t":-696,"w":-49},{"t":-692,"w":-45},{"t":-692,"w":-51},{"t":-688,"w":-43},{"t":-688,"w":-50},{"t":-684,"w":-42},{"t":-684,"w":-48},{"t":-680,"w":-42.8},{"t":-680,"w":-48.8},{"t":-676,"w":-40},{"t":-676,"w":-47},{"t":-672,"w":-37.8},{"t":-672,"w":-43.8},{"t":-668,"w":-38},{"t":-668,"w":-44},{"t":-664,"w":-34.5},{"t":-664,"w":-41.5},{"t":-660,"w":-32},{"t":-660,"w":-38},{"t":-656,"w":-32},{"t":-656,"w":-38},{"t":-652,"w":-28.5},{"t":-652,"w":-35.5},{"t":-648,"w":-26},{"t":-648,"w":-32},{"t":-644,"w":-26},{"t":-644,"w":-32},{"t":-640,"w":-23},{"t":-640,"w":-30},{"t":-636,"w":-21},{"t":-636,"w":-27},{"t":-632,"w":-22.3},{"t":-632,"w":-28.3},{"t":-628,"w":-20},{"t":-628,"w":-27},{"t":-624,"w":-19.5},{"t":-624,"w":-25.5},{"t":-620,"w":-21.5},{"t":-620,"w":-27.5},{"t":-616,"w":-21.3},{"t":-616,"w":-28.3},{"t":-612,"w":-22},{"t":-612,"w":-28},{"t":-608,"w":-26},{"t":-608,"w":-32},{"t":-604,"w":-26.5},{"t":-604,"w":-33.5},{"t":-600,"w":-28},{"t":-600,"w":-34},{"t":-596,"w":-32},{"t":-596,"w":-38},{"t":-592,"w":-32.5},{"t":-592,"w":-39.5},{"t":-588,"w":-34},{"t":-588,"w":-40},{"t":-584,"w":-38},{"t":-584,"w":-44},{"t":-580,"w":-38.5},{"t":-580,"w":-45.5},{"t":-576,"w":-39.5},{"t":-576,"w":-45.5},{"t":-572,"w":-43},{"t":-572,"w":-49},{"t":-568,"w":-42.8},{"t":-568,"w":-49.8},{"t":-564,"w":-43.5},{"t":-564,"w":-49.5},{"t":-560,"w":-45.8},{"t":-560,"w":-51.8},{"t":-556,"w":-44.5},{"t":-556,"w":-51.5},{"t":-552,"w":-43.8},{"t":-552,"w":-49.8},{"t":-548,"w":-45.5},{"t":-548,"w":-51.5},{"t":-544,"w":-43},{"t":-544,"w":-50},{"t":-540,"w":-41.5},{"t":-540,"w":-47.5},{"t":-536,"w":-41.8},{"t":-536,"w":-47.8},{"t":-532,"w":-38.5},{"t":-532,"w":-45.5},{"t":-528,"w":-36},{"t":-528,"w":-42},{"t":-524,"w":-36},{"t":-524,"w":-42},{"t":-520,"w":-32.5},{"t":-520,"w":-39.5},{"t":-516,"w":-30},{"t":-516,"w":-36},{"t":-512,"w":-30},{"t":-512,"w":-36},{"t":-508,"w":-26.5},{"t":-508,"w":-33.5},{"t":-504,"w":-24.5},{"t":-504,"w":-30.5},{"t":-500,"w":-25},{"t":-500,"w":-31},{"t":-496,"w":-22.8},{"t":-496,"w":-29.8},{"t":-492,"w":-21.5},{"t":-492,"w":-27.5},{"t":-488,"w":-23.3},{"t":-488,"w":-29.3},{"t":-484,"w":-21.5},{"t":-484,"w":-28.5},{"t":-480,"w":-21.3},{"t":-480,"w":-27.3},{"t":-476,"w":-23.5},{"t":-476,"w":-29.5},{"t":-472,"w":-23.3},{"t":-472,"w":-30.3},{"t":-468,"w":-24},{"t":-468,"w":-30},{"t":-464,"w":-28},{"t":-464,"w":-34},{"t":-460,"w":-28.5},{"t":-460,"w":-35.5},{"t":-456,"w":-30},{"t":-456,"w":-36},{"t":-452,"w":-34},{"t":-452,"w":-40},{"t":-448,"w":-34.5},{"t":-448,"w":-41.5},{"t":-444,"w":-36},{"t":-444,"w":-42},{"t":-440,"w":-39.8},{"t":-440,"w":-45.8},{"t":-436,"w":-40},{"t":-436,"w":-47},{"t":-432,"w":-40.8},{"t":-432,"w":-46.8},{"t":-428,"w":-44},{"t":-428,"w":-50},{"t":-424,"w":-42.8},{"t":-424,"w":-49.8},{"t":-420,"w":-42.5},{"t":-420,"w":-48.5},{"t":-416,"w":-44.3},{"t":-416,"w":-50.3},{"t":-412,"w":-42.5},{"t":-412,"w":-49.5},{"t":-408,"w":-40.8},{"t":-408,"w":-46.8},{"t":-404,"w":-41.5},{"t":-404,"w":-47.5},{"t":-400,"w":-38.5},{"t":-400,"w":-45.5},{"t":-396,"w":-36.5},{"t":-396,"w":-42.5},{"t":-392,"w":-36.8},{"t":-392,"w":-42.8},{"t":-388,"w":-33.5},{"t":-388,"w":-40.5},{"t":-384,"w":-31.3},{"t":-384,"w":-37.3},{"t":-380,"w":-31.5},{"t":-380,"w":-37.5},{"t":-376,"w":-28.3},{"t":-376,"w":-35.3},{"t":-372,"w":-26},{"t":-372,"w":-32},{"t":-368,"w":-26.5},{"t":-368,"w":-32.5},{"t":-364,"w":-23.5},{"t":-364,"w":-30.5},{"t":-360,"w":-22},{"t":-360,"w":-28},{"t":-356,"w":-23},{"t":-356,"w":-29},{"t":-352,"w":-21},{"t":-352,"w":-28},{"t":-348,"w":-20},{"t":-348,"w":-26},{"t":-344,"w":-22},{"t":-344,"w":-28},{"t":-340,"w":-20.5},{"t":-340,"w":-27.5},{"t":-336,"w":-20.8},{"t":-336,"w":-26.8},{"t":-332,"w":-23.5},{"t":-332,"w":-29.5},{"t":-328,"w":-23.5},{"t":-328,"w":-30.5},{"t":-324,"w":-24.5},{"t":-324,"w":-30.5},{"t":-320,"w":-28.5},{"t":-320,"w":-34.5},{"t":-316,"w":-29},{"t":-316,"w":-36},{"t":-312,"w":-30.5},{"t":-312,"w":-36.5},{"t":-308,"w":-34.5},{"t":-308,"w":-40.5},{"t":-304,"w":-34.8},{"t":-304,"w":-41.8},{"t":-300,"w":-36},{"t":-300,"w":-42},{"t":-296,"w":-39.5},{"t":-296,"w":-45.5},{"t":-292,"w":-39.5},{"t":-292,"w":-46.5},{"t":-288,"w":-40},{"t":-288,"w":-46},{"t":-284,"w":-43},{"t":-284,"w":-49},{"t":-280,"w":-41.8},{"t":-280,"w":-48.8},{"t":-276,"w":-41.5},{"t":-276,"w":-47.5},{"t":-272,"w":-43.3},{"t":-272,"w":-49.3},{"t":-268,"w":-41.5},{"t":-268,"w":-48.5},{"t":-264,"w":-40.5},{"t":-264,"w":-46.5},{"t":-260,"w":-42},{"t":-260,"w":-48},{"t":-256,"w":-39.3},{"t":-256,"w":-46.3},{"t":-252,"w":-37.5},{"t":-252,"w":-43.5},{"t":-248,"w":-38},{"t":-248,"w":-44},{"t":-244,"w":-35},{"t":-244,"w":-42},{"t":-240,"w":-32.8},{"t":-240,"w":-38.8},{"t":-236,"w":-33},{"t":-236,"w":-39},{"t":-232,"w":-29.5},{"t":-232,"w":-36.5},{"t":-228,"w":-27},{"t":-228,"w":-33},{"t":-224,"w":-27.5},{"t":-224,"w":-33.5},{"t":-220,"w":-24.5},{"t":-220,"w":-31.5},{"t":-216,"w":-23},{"t":-216,"w":-29},{"t":-212,"w":-24},{"t":-212,"w":-30},{"t":-208,"w":-22},{"t":-208,"w":-29},{"t":-204,"w":-21},{"t":-204,"w":-27},{"t":-200,"w":-23.3},{"t":-200,"w":-29.3},{"t":-196,"w":-22},{"t":-196,"w":-29},{"t":-192,"w":-22.8},{"t":-192,"w":-28.8},{"t":-188,"w":-26},{"t":-188,"w":-32},{"t":-184,"w":-26.5},{"t":-184,"w":-33.5},{"t":-180,"w":-28},{"t":-180,"w":-34},{"t":-176,"w":-32},{"t":-176,"w":-38},{"t":-172,"w":-32.5},{"t":-172,"w":-39.5},{"t":-168,"w":-34},{"t":-168,"w":-40},{"t":-164,"w":-38},{"t":-164,"w":-44},{"t":-160,"w":-38},{"t":-160,"w":-45},{"t":-156,"w":-39},{"t":-156,"w":-45},{"t":-152,"w":-42.3},{"t":-152,"w":-48.3},{"t":-148,"w":-42},{"t":-148,"w":-49},{"t":-144,"w":-42.3},{"t":-144,"w":-48.3},{"t":-140,"w":-45},{"t":-140,"w":-51},{"t":-136,"w":-43.5},{"t":-136,"w":-50.5},{"t":-132,"w":-43},{"t":-132,"w":-49},{"t":-128,"w":-44.5},{"t":-128,"w":-50.5},{"t":-124,"w":-42.5},{"t":-124,"w":-49.5},{"t":-120,"w":-41},{"t":-120,"w":-47},{"t":-116,"w":-42},{"t":-116,"w":-48},{"t":-112,"w":-39},{"t":-112,"w":-46},{"t":-108,"w":-37},{"t":-108,"w":-43},{"t":-104,"w":-37.5},{"t":-104,"w":-43.5},{"t":-100,"w":-34.5},{"t":-100,"w":-41.5},{"t":-96,"w":-32.3},{"t":-96,"w":-38.3},{"t":-92,"w":-32.5},{"t":-92,"w":-38.5},{"t":-88,"w":-29},{"t":-88,"w":-36},{"t":-84,"w":-26.5},{"t":-84,"w":-32.5},{"t":-80,"w":-26.8},{"t":-80,"w":-32.8},{"t":-76,"w":-23.5},{"t":-76,"w":-30.5},{"t":-72,"w":-21.8},{"t":-72,"w":-27.8},{"t":-68,"w":-22.5},{"t":-68,"w":-28.5},{"t":-64,"w":-20.8},{"t":-64,"w":-27.8},{"t":-60,"w":-20},{"t":-60,"w":-26},{"t":-56,"w":-22.5},{"t":-56,"w":-28.5},{"t":-52,"w":-21.5},{"t":-52,"w":-28.5},{"t":-48,"w":-22.5},{"t":-48,"w":-28.5},{"t":-44,"w":-26},{"t":-44,"w":-32},{"t":-40,"w":-26.3},{"t":-40,"w":-33.3},{"t":-36,"w":-27.5},{"t":-36,"w":-33.5},{"t":-32,"w":-31.5},{"t":-32,"w":-37.5},{"t":-28,"w":-32},{"t":-28,"w":-39},{"t":-24,"w":-33.3},{"t":-24,"w":-39.3},{"t":-20,"w":-37},{"t":-20,"w":-43},{"t":-16,"w":-37.3},{"t":-16,"w":-44.3},{"t":-12,"w":-38.5},{"t":-12,"w":-44.5},{"t":-8,"w":-42},{"t":-8,"w":-48},{"t":-4,"w":-42},{"t":-4,"w":-49},{"t":0,"w":-42.8},{"t":0,"w":-48.8},{"t":4,"w":-46},{"t":4,"w":-52},{"t":8,"w":-45},{"t":8,"w":-52},{"t":12,"w":-45},{"t":12,"w":-51},
{"t":-891,"w":17.8},{"t":-950,"w":-45.7},{"t":-950,"w":-27.8},{"t":-907,"w":-19.4},{"t":-887,"w":-19.7},{"t":-891,"w":-40.1},{"t":-788,"w":-42.1},{"t":-768,"w":-42.1},{"t":-788,"w":-20.8},{"t":-610,"w":-6.9},{"t":-586,"w":10.8},{"t":-610,"w":-45.5},{"t":-606,"w":-49},{"t":-582,"w":-21.1},{"t":-580,"w":-24.6},{"t":-546,"w":-40.1},{"t":-542,"w":-55.2},{"t":-531,"w":-53.7},{"t":-499,"w":-18},{"t":-467,"w":-15.8},{"t":-463,"w":-21.3},{"t":-499,"w":-37.8},{"t":-424,"w":-59.7},{"t":-408,"w":-53.3},{"t":-424,"w":-36.7},{"t":-405.5,"w":11.4},{"t":-374,"w":-24.4},{"t":-352,"w":-17.7},{"t":-333,"w":-18},{"t":-287,"w":10.3},{"t":-287,"w":-53.5},{"t":-261,"w":-56.9},{"t":-219,"w":-9.1},{"t":-251,"w":-17.5},{"t":-222,"w":-19},{"t":-219,"w":-49.3},{"t":-166,"w":-23.1},{"t":-136,"w":-24.2},{"t":-168,"w":-50.7},{"t":-63,"w":-39.2},{"t":-24,"w":-25.5},{"t":0,"w":-31.7},{"t":0,"w":-38.4},{"t":0,"w":-50.1},{"t":-770,"w":-19},{"t":-625,"w":-18},{"t":-60,"w":-19}
]
},
"concat":[
{"title":"Test 4","width":415,"height":237.5,"layer":[
{"data":{"name":"t4"},"mark":{"type":"point","shape":"M-1,0L1,0M0,-1L0,1M-0.7,-0.7L0.7,0.7M-0.7,0.7L0.7,-0.7","filled":false,"size":115,"strokeWidth":1.3,"color":"#ff00ff","opacity":1},
"encoding":{"x":{"field":"t","type":"quantitative","title":"Theta (deg)","scale":{"domain":[-949,19.5],"nice":false,"zero":false},"axis":{"values":[-800,-600,-400,-200,0],"labelExpr":"replace(datum.label, '\u2212', '-')"}},
"y":{"field":"w","type":"quantitative","title":"Omega (deg/s)","scale":{"domain":[-60,20],"nice":false,"zero":false},"axis":{"values":[-60,-40,-20,0,20],"labelExpr":"replace(datum.label, '\u2212', '-')"}}}},
{"data":{"values":[{"w":-24}]},"mark":{"type":"rule","color":"#404040","strokeWidth":1},"encoding":{"y":{"field":"w","type":"quantitative","title":"Omega (deg/s)","scale":{"domain":[-60,20],"nice":false,"zero":false}}}}
]},
{"title":"Test 6","width":412,"height":237.5,"layer":[
{"data":{"name":"t6"},"mark":{"type":"point","shape":"M-1,0L1,0M0,-1L0,1M-0.7,-0.7L0.7,0.7M-0.7,0.7L0.7,-0.7","filled":false,"size":115,"strokeWidth":1.3,"color":"#ff00ff","opacity":1},
"encoding":{"x":{"field":"t","type":"quantitative","title":"Theta (deg)","scale":{"domain":[-949,12.7],"nice":false,"zero":false},"axis":{"values":[-800,-600,-400,-200,0],"labelExpr":"replace(datum.label, '\u2212', '-')"}},
"y":{"field":"w","type":"quantitative","title":"Omega (deg/s)","scale":{"domain":[-60,20],"nice":false,"zero":false},"axis":{"values":[-60,-40,-20,0,20],"labelExpr":"replace(datum.label, '\u2212', '-')"}}}},
{"data":{"values":[{"w":-24}]},"mark":{"type":"rule","color":"#404040","strokeWidth":1},"encoding":{"y":{"field":"w","type":"quantitative","title":"Omega (deg/s)","scale":{"domain":[-60,20],"nice":false,"zero":false}}}}
]},
{"title":"Test 5","width":415,"height":237.5,"layer":[
{"data":{"name":"t5"},"mark":{"type":"point","shape":"M-1,0L1,0M0,-1L0,1M-0.7,-0.7L0.7,0.7M-0.7,0.7L0.7,-0.7","filled":false,"size":115,"strokeWidth":1.3,"color":"#ff00ff","opacity":1},
"encoding":{"x":{"field":"t","type":"quantitative","title":"Theta (deg)","scale":{"domain":[-949,19.5],"nice":false,"zero":false},"axis":{"values":[-800,-600,-400,-200,0],"labelExpr":"replace(datum.label, '\u2212', '-')"}},
"y":{"field":"w","type":"quantitative","title":"Omega (deg/s)","scale":{"domain":[-60,20],"nice":false,"zero":false},"axis":{"values":[-60,-40,-20,0,20],"labelExpr":"replace(datum.label, '\u2212', '-')"}}}},
{"data":{"values":[{"w":-24}]},"mark":{"type":"rule","color":"#404040","strokeWidth":1},"encoding":{"y":{"field":"w","type":"quantitative","title":"Omega (deg/s)","scale":{"domain":[-60,20],"nice":false,"zero":false}}}}
]},
{"title":"Test 7","width":412,"height":237.5,"layer":[
{"data":{"name":"t7"},"mark":{"type":"point","shape":"M-1,0L1,0M0,-1L0,1M-0.7,-0.7L0.7,0.7M-0.7,0.7L0.7,-0.7","filled":false,"size":115,"strokeWidth":1.3,"color":"#ff00ff","opacity":1},
"encoding":{"x":{"field":"t","type":"quantitative","title":"Theta (deg)","scale":{"domain":[-949,12.7],"nice":false,"zero":false},"axis":{"values":[-800,-600,-400,-200,0],"labelExpr":"replace(datum.label, '\u2212', '-')"}},
"y":{"field":"w","type":"quantitative","title":"Omega (deg/s)","scale":{"domain":[-60,20],"nice":false,"zero":false},"axis":{"values":[-60,-40,-20,0,20],"labelExpr":"replace(datum.label, '\u2212', '-')"}}}},
{"data":{"values":[{"w":-24}]},"mark":{"type":"rule","color":"#404040","strokeWidth":1},"encoding":{"y":{"field":"w","type":"quantitative","title":"Omega (deg/s)","scale":{"domain":[-60,20],"nice":false,"zero":false}}}}
]}
]
}
